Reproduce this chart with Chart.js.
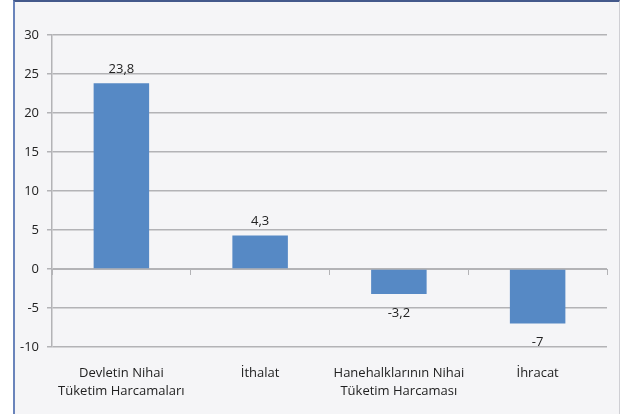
<!DOCTYPE html>
<html>
<head>
<meta charset="utf-8">
<script src="https://cdn.jsdelivr.net/npm/chart.js@4"></script>
<style>
  html, body { margin: 0; padding: 0; background: #ffffff; }
  #frame {
    position: absolute; left: 13px; top: 0; width: 607px; height: 414px;
    background: #f5f5f7;
    border-left: 2px solid #6a84bb;
    border-top: 2px solid #44598b;
    border-right: 1px solid #cfcfd4;
    box-sizing: border-box;
  }
  #wrap { position: absolute; left: 0; top: 0; width: 622px; height: 414px; }
</style>
</head>
<body>
<div id="frame"></div>
<div id="wrap"><canvas id="myChart" width="622" height="414"></canvas></div>
<script>
const categories = [
  ["Devletin Nihai", "Tüketim Harcamaları"],
  "İthalat",
  ["Hanehalklarının Nihai", "Tüketim Harcaması"],
  "İhracat"
]
const values = [23.8, 4.3, -3.2, -7]
const y_ticks = [30, 25, 20, 15, 10, 5, 0, -5, -10]

const font_family = "'Open Sans', 'Noto Sans', sans-serif"
const grid_color = "#b3b3b6"

// labels above / below each bar, decimal comma
const valueLabels = {
  id: "valueLabels",
  afterDatasetsDraw(chart){
    const ctx = chart.ctx
    const meta = chart.getDatasetMeta(0)
    ctx.save()
    ctx.font = "13px " + font_family
    ctx.fillStyle = "#222"
    ctx.textAlign = "center"
    ctx.textBaseline = "middle"
    meta.data.forEach((bar, i) => {
      const v = values[i]
      const txt = String(v).replace(".", ",")
      const y = v >= 0 ? bar.y - 14 : bar.y + 19
      ctx.fillText(txt, bar.x, y)
    })
    ctx.restore()
  }
}

new Chart(document.getElementById('myChart').getContext('2d'), {
  type: 'bar',
  data: {
    labels: categories,
    datasets: [{
      data: values,
      backgroundColor: "#5689c5",
      borderWidth: 0,
      categoryPercentage: 0.4,
      barPercentage: 1.0
    }]
  },
  options: {
    responsive: false,
    animation: false,
    layout: { padding: { left: 14, right: 15, top: 35, bottom: 0 } },
    plugins: {
      legend: { display: false },
      tooltip: { enabled: false }
    },
    scales: {
      x: {
        position: 'bottom',
        grid: { display: false },
        border: { display: false },
        ticks: {
          color: "#222",
          padding: 9,
          maxRotation: 0,
          font: { family: font_family, size: 13, lineHeight: 1.4 }
        },
        afterFit: s => { s.height = 67 }
      },
      x2: {
        type: 'category',
        labels: categories,
        position: { y: 0 },
        offset: true,
        grid: {
          offset: true,
          drawOnChartArea: false,
          drawTicks: true,
          tickLength: 5,
          color: grid_color
        },
        border: { display: true, color: grid_color, width: 1 },
        ticks: { display: false }
      },
      y: {
        min: -10,
        max: 30,
        afterBuildTicks: s => { s.ticks = y_ticks.map(v => ({ value: v })) },
        grid: { color: grid_color, tickLength: 5, lineWidth: 1.5 },
        border: { display: true, color: grid_color, width: 1.5 },
        ticks: {
          color: "#222",
          padding: 8,
          font: { family: font_family, size: 13 }
        },
        afterFit: s => { s.width = 38 }
      }
    }
  },
  plugins: [valueLabels]
})
</script>
</body>
</html>
